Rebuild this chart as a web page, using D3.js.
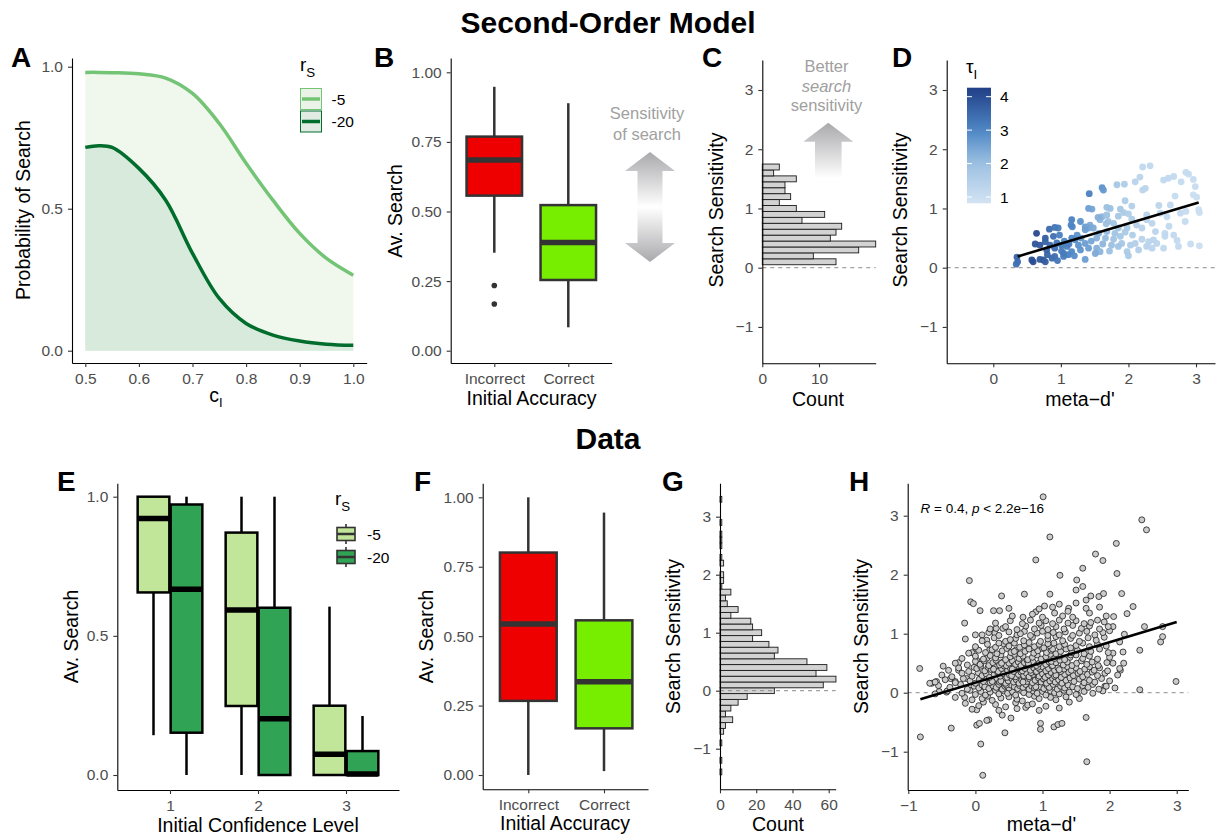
<!DOCTYPE html>
<html>
<head>
<meta charset="utf-8">
<script src="https://cdn.jsdelivr.net/npm/d3@7"></script>
<style>
body { margin: 0; background: #fff; }
svg { font-family: "Liberation Sans", Arial, Helvetica, sans-serif; }
</style>
</head>
<body>
<svg width="1217" height="840"></svg>
<script>
// ---- A: probability of search vs initial confidence
var ciGrid  = [0.5, 0.525, 0.55, 0.6, 0.65, 0.7, 0.75, 0.8, 0.85, 0.9, 0.95, 1.0];
var probR5  = [0.980, 0.980, 0.979, 0.975, 0.960, 0.906, 0.800, 0.660, 0.530, 0.413, 0.325, 0.266];
var probR20 = [0.716, 0.722, 0.716, 0.642, 0.530, 0.343, 0.184, 0.096, 0.055, 0.034, 0.023, 0.019];

// ---- B / F: boxplots [lower whisker, q1, median, q3, upper whisker]
var accCats = ["Incorrect", "Correct"];
var modelBoxes = [[0.352, 0.557, 0.685, 0.769, 0.948], [0.084, 0.254, 0.389, 0.523, 0.889]];
var modelOutliers = [0.234, 0.168];
var dataBoxes = [[0.0, 0.267, 0.544, 0.801, 1.0], [0.014, 0.168, 0.336, 0.557, 0.945]];

// ---- C: model search sensitivity histogram (bin lower edge, width 0.1)
var binLowC  = [0.05, 0.15, 0.25, 0.35, 0.45, 0.55, 0.65, 0.75, 0.85, 0.95, 1.05, 1.15, 1.25, 1.35, 1.45, 1.55, 1.65];
var countsC  = [13, 9, 17, 20, 12, 13, 14, 7, 11, 6, 3, 5, 4, 4, 6, 2, 3];

// ---- D: model meta-d' vs search sensitivity [meta-d', sensitivity, tau_I]
var pointsD = [[2.21,1.70,1.2],[2.32,1.72,1.2],[2.85,1.61,1.1],[2.89,1.58,1.1],[2.52,1.48,1.2],[2.59,1.51,1.2],[2.67,1.54,1.15],[2.96,1.49,1.05],
[2.10,1.45,1.4],[2.17,1.53,1.3],[1.83,1.40,1.8],[1.94,1.41,1.6],[2.25,1.34,1.3],[2.21,1.31,1.3],[1.61,1.35,2.8],[1.63,1.31,2.7],[1.42,1.25,3.1],
[2.99,1.37,1.05],[2.69,1.21,1.1],[3.01,1.19,1.0],[2.96,1.23,1.0],[1.95,1.13,1.6],[2.05,1.04,1.5],[2.62,1.06,1.2],[1.41,1.00,2.6],[1.46,0.99,2.5],
[1.68,1.02,2.0],[1.73,1.00,2.0],[1.88,0.99,1.8],[1.93,0.93,1.7],[3.04,0.98,1.0],[3.05,0.93,1.0],[1.61,0.86,2.2],[1.68,0.89,2.0],[1.85,0.87,1.8],
[2.00,0.91,1.6],[2.27,0.89,1.4],[2.47,0.92,1.3],[2.57,0.86,1.2],[2.77,0.92,1.15],[1.16,0.81,3.1],[1.29,0.78,2.8],[1.58,0.81,2.2],[1.70,0.78,2.0],
[1.67,0.74,2.0],[1.78,0.75,1.9],[1.43,0.72,2.4],[1.36,0.69,2.6],[1.41,0.67,2.5],[2.12,0.72,1.5],[2.05,0.82,1.6],[1.98,0.67,1.7],[2.27,0.81,1.4],
[2.35,0.75,1.3],[2.84,0.78,1.1],[0.83,0.65,3.5],[0.91,0.68,3.3],[0.96,0.67,3.2],[1.15,0.72,3.0],[1.17,0.69,3.0],[0.64,0.58,4.1],[0.77,0.50,3.7],
[0.89,0.53,3.4],[1.24,0.55,2.8],[1.16,0.50,3.0],[1.36,0.64,2.6],[1.48,0.67,2.4],[1.56,0.58,2.3],[1.68,0.61,2.1],[1.80,0.58,1.9],[1.88,0.53,1.8],
[1.85,0.67,1.9],[2.06,0.55,1.6],[2.20,0.67,1.4],[2.40,0.61,1.3],[2.54,0.58,1.2],[2.67,0.55,1.15],[2.54,0.53,1.2],[0.62,0.40,3.9],[0.77,0.44,3.6],
[0.69,0.38,3.8],[0.84,0.38,3.5],[0.94,0.42,3.3],[1.01,0.38,3.2],[1.09,0.36,3.1],[1.21,0.47,2.9],[1.26,0.38,2.8],[1.36,0.41,2.6],[1.53,0.50,2.3],
[1.66,0.50,2.1],[1.78,0.48,1.9],[1.90,0.41,1.8],[2.03,0.38,1.6],[2.10,0.41,1.5],[2.20,0.48,1.4],[2.30,0.44,1.35],[2.37,0.47,1.3],[2.42,0.41,1.3],
[2.72,0.46,1.15],[2.27,0.36,1.4],[2.35,0.33,1.3],[2.52,0.33,1.2],[2.74,0.36,1.15],[2.92,0.40,1.05],[3.05,0.37,1.0],[0.79,0.30,3.6],[0.91,0.33,3.4],
[1.01,0.28,3.2],[1.04,0.24,3.2],[1.11,0.22,3.1],[1.16,0.27,3.0],[1.29,0.30,2.8],[1.41,0.33,2.6],[1.53,0.33,2.3],[1.58,0.27,2.2],[1.51,0.24,2.4],
[1.75,0.38,2.0],[1.85,0.36,1.9],[1.98,0.27,1.7],[2.00,0.20,1.7],[0.57,0.13,4.0],[0.59,0.10,4.0],[0.69,0.14,3.8],[0.74,0.13,3.8],[0.77,0.10,3.7],
[0.87,0.16,3.5],[0.91,0.19,3.4],[1.04,0.19,3.2],[1.36,0.14,2.6],[0.35,0.18,3.6],[0.36,0.10,3.5],[0.34,0.06,3.4],[0.98,0.55,3.1],[1.05,0.45,3.0],
[1.20,0.20,2.9],[1.12,0.40,3.1],[0.80,0.22,3.6],[1.30,0.50,2.7],[1.45,0.45,2.5],[1.62,0.40,2.2],[1.72,0.28,2.0],[2.15,0.30,1.5],[2.60,0.70,1.2],
[2.45,1.05,1.3],[2.85,0.95,1.1],[1.95,0.60,1.7],[1.55,0.85,2.3],[0.95,0.12,3.3],[2.78,1.45,1.1]];
var fitD = [[0.36, 0.19], [3.04, 1.10]];

// ---- E: data boxplots by confidence level and r_S
var confLevels = [1, 2, 3];
var rsLevels = ["-5", "-20"];
var boxesR5  = [[0.143, 0.656, 0.922, 1.0, 1.0], [0.0, 0.248, 0.593, 0.871, 1.0], [0.0, 0.0, 0.075, 0.249, 0.605]];
var boxesR20 = [[0.0, 0.152, 0.667, 0.972, 1.0], [0.0, 0.0, 0.202, 0.601, 1.0], [0.0, 0.0, 0.004, 0.086, 0.212]];

// ---- G: data search sensitivity histogram (bin centre, width 0.1)
var binMidG = [-1.4, -1.2, -0.9, -0.7, -0.6, -0.5, -0.4, -0.3, -0.2, -0.1, 0.0, 0.1, 0.2, 0.3, 0.4, 0.5, 0.6, 0.7, 0.8, 0.9, 1.0,
               1.1, 1.2, 1.3, 1.4, 1.5, 1.6, 1.7, 1.8, 1.9, 2.0, 2.2, 2.3, 2.5, 2.6, 2.7, 2.9, 3.3];
var countsG = [1, 1, 1, 2, 3, 7, 3, 6, 10, 15, 30, 57, 64, 53, 59, 48, 30, 32, 27, 18, 23,
               18, 17, 6, 10, 4, 3, 6, 1, 2, 2, 2, 1, 1, 1, 1, 1, 1];

// ---- H: data meta-d' vs search sensitivity
var pointsH = [
[-0.83,0.41],[-0.82,-0.75],[-0.65,0.16],[-0.58,0.19],[-0.54,0.02],[-0.48,0.45],[-0.43,0.01],[-0.37,0.24],[-0.36,-0.60],[-0.30,0.19],
[-0.25,0.51],[-0.25,0.38],[-0.16,1.18],[-0.15,0.91],[-0.13,0.24],[-0.16,-0.08],[-0.09,1.90],[-0.07,1.54],[-0.03,1.51],[-0.05,0.68],
[-0.02,0.43],[0.01,0.75],[0.02,0.55],[0.02,-0.29],[0.02,-0.55],[0.06,-0.52],[0.07,1.39],[0.08,-0.87],[0.10,0.98],[0.11,-1.40],
[0.17,0.89],[0.17,0.58],[0.20,-0.46],[0.21,0.72],[0.17,-0.47],[0.27,1.39],[0.29,1.01],[0.31,1.09],[0.36,1.39],[0.39,1.64],
[0.40,-0.38],[0.41,1.09],[0.44,-0.68],[0.50,1.43],[0.53,-0.43],[0.71,1.28],[0.73,1.67],[0.75,-0.25],[0.90,2.25],[0.90,1.37],
[0.97,-0.52],[0.97,-0.62],[1.01,3.32],[1.03,1.47],[1.11,2.64],[1.11,1.67],[1.17,-0.58],[1.23,-0.54],[1.26,1.99],[1.29,-0.52],
[1.39,1.43],[1.51,1.91],[1.50,1.74],[1.52,-0.03],[1.60,1.80],[1.60,2.11],[1.65,1.57],[1.65,1.43],[1.65,-0.42],[1.66,-1.17],
[1.72,1.64],[1.79,2.35],[1.84,1.63],[1.90,2.24],[1.91,1.68],[1.93,0.11],[2.10,2.53],[2.11,2.02],[2.18,1.68],[2.21,0.50],
[2.26,1.34],[2.35,1.46],[2.45,0.05],[2.45,0.72],[2.48,2.93],[2.55,2.76],[2.52,1.12],[2.76,0.86],[2.79,0.95],[2.79,1.12],
[2.99,0.19],[2.16,0.38],[2.05,0.67],[2.05,0.50],[2.15,0.86],[2.20,0.69],[2.22,0.99],[2.06,1.29],[2.05,1.12],
[-0.15,-0.18],[0.05,-0.22],[0.12,-0.16],[0.30,-0.20],[0.45,-0.24],[0.60,-0.17],[0.78,-0.21],[0.85,-0.19],[1.05,-0.23],[1.40,-0.16],
[-0.30,-0.08],[-0.05,-0.12],[0.10,-0.10],[0.18,-0.06],[0.25,-0.13],[0.38,-0.09],[0.50,-0.07],[0.62,-0.11],[0.70,-0.14],[0.88,-0.06],
[0.95,-0.10],[1.12,-0.08],[1.20,-0.12],[1.35,-0.07],[1.55,-0.10],
[-0.60,-0.02],[-0.42,0.03],[-0.20,-0.01],[-0.08,0.04],[0.00,-0.03],[0.08,0.02],[0.15,-0.04],[0.22,0.01],[0.30,0.04],[0.35,-0.02],
[0.42,0.03],[0.48,-0.01],[0.55,0.02],[0.60,-0.04],[0.68,0.04],[0.72,0.00],[0.80,-0.03],[0.86,0.03],[0.92,-0.01],[1.00,0.02],
[1.05,-0.04],[1.12,0.03],[1.18,0.00],[1.25,-0.02],[1.32,0.04],[1.40,0.01],[1.50,-0.03],[1.62,0.02],[1.75,-0.01],[1.90,0.03],
[-0.68,0.16],[-0.55,0.12],[-0.38,0.09],[-0.22,0.14],[-0.12,0.06],[-0.02,0.11],[0.05,0.08],[0.10,0.13],[0.14,0.10],[0.20,0.07],
[0.26,0.12],[0.31,0.09],[0.35,0.14],[0.40,0.06],[0.44,0.11],[0.50,0.08],[0.53,0.13],[0.58,0.10],[0.63,0.07],[0.66,0.12],
[0.71,0.09],[0.75,0.14],[0.80,0.06],[0.84,0.11],[0.88,0.08],[0.93,0.13],[0.97,0.10],[1.02,0.07],[1.07,0.12],[1.10,0.09],
[1.16,0.14],[1.22,0.06],[1.27,0.11],[1.33,0.08],[1.38,0.13],[1.45,0.10],[1.52,0.07],[1.60,0.12],[1.68,0.09],[1.75,0.14],
[1.84,0.06],[1.95,0.11],[2.08,0.08],[0.46,0.13],[0.90,0.10],
[-0.60,0.18],[-0.45,0.22],[-0.30,0.17],[-0.18,0.24],[-0.08,0.20],[0.00,0.16],[0.06,0.23],[0.12,0.19],[0.17,0.25],[0.22,0.17],
[0.27,0.21],[0.32,0.24],[0.36,0.18],[0.41,0.22],[0.45,0.16],[0.49,0.20],[0.54,0.24],[0.57,0.18],[0.61,0.22],[0.65,0.16],
[0.69,0.21],[0.73,0.25],[0.77,0.19],[0.81,0.23],[0.85,0.17],[0.89,0.21],[0.94,0.25],[0.98,0.18],[1.03,0.22],[1.06,0.16],
[1.11,0.20],[1.15,0.24],[1.19,0.18],[1.24,0.22],[1.29,0.16],[1.35,0.21],[1.41,0.25],[1.47,0.19],[1.55,0.23],[1.62,0.17],
[1.70,0.21],[1.78,0.18],[1.88,0.24],[2.00,0.20],[0.38,0.20],[0.71,0.18],[1.01,0.24],[0.25,0.19],
[-0.50,0.30],[-0.35,0.27],[-0.20,0.33],[-0.05,0.28],[0.04,0.34],[0.10,0.29],[0.16,0.32],[0.21,0.26],[0.28,0.31],[0.33,0.35],
[0.37,0.28],[0.42,0.32],[0.47,0.26],[0.51,0.30],[0.56,0.34],[0.60,0.27],[0.64,0.31],[0.68,0.35],[0.72,0.29],[0.76,0.33],
[0.80,0.27],[0.86,0.31],[0.90,0.35],[0.95,0.28],[1.00,0.32],[1.04,0.26],[1.09,0.30],[1.13,0.34],[1.18,0.28],[1.23,0.32],
[1.28,0.26],[1.33,0.31],[1.39,0.35],[1.46,0.29],[1.53,0.33],[1.60,0.27],[1.67,0.31],[1.74,0.35],[1.82,0.29],[1.93,0.33],
[2.12,0.30],[0.54,0.29],[0.83,0.34],[1.20,0.30],
[-0.40,0.38],[-0.25,0.42],[-0.10,0.36],[0.02,0.41],[0.08,0.45],[0.14,0.37],[0.19,0.43],[0.24,0.39],[0.30,0.44],[0.34,0.36],
[0.39,0.41],[0.43,0.45],[0.48,0.38],[0.52,0.42],[0.57,0.36],[0.61,0.40],[0.65,0.44],[0.70,0.37],[0.74,0.41],[0.78,0.45],
[0.82,0.38],[0.87,0.42],[0.91,0.36],[0.96,0.40],[1.00,0.44],[1.05,0.37],[1.09,0.41],[1.14,0.45],[1.18,0.38],[1.23,0.42],
[1.27,0.36],[1.32,0.40],[1.37,0.44],[1.43,0.38],[1.50,0.42],[1.56,0.36],[1.63,0.40],[1.70,0.44],[1.77,0.38],[1.85,0.42],
[1.97,0.37],[2.15,0.41],[0.55,0.40],[0.93,0.43],[1.25,0.39],[0.27,0.40],
[-0.30,0.50],[-0.12,0.47],[0.00,0.53],[0.07,0.48],[0.13,0.54],[0.20,0.46],[0.26,0.51],[0.31,0.55],[0.36,0.47],[0.41,0.52],
[0.46,0.46],[0.50,0.50],[0.55,0.54],[0.60,0.48],[0.64,0.52],[0.68,0.46],[0.73,0.51],[0.77,0.55],[0.82,0.47],[0.86,0.52],
[0.91,0.46],[0.95,0.50],[1.00,0.54],[1.05,0.48],[1.10,0.52],[1.15,0.46],[1.20,0.51],[1.26,0.55],[1.31,0.47],[1.37,0.52],
[1.44,0.46],[1.51,0.50],[1.58,0.54],[1.66,0.48],[1.74,0.52],[1.83,0.46],[1.96,0.51],[0.39,0.50],[0.79,0.49],[1.13,0.53],
[-0.20,0.58],[0.00,0.62],[0.12,0.57],[0.22,0.63],[0.30,0.59],[0.38,0.64],[0.45,0.56],[0.52,0.61],[0.58,0.65],[0.65,0.58],
[0.71,0.62],[0.78,0.56],[0.85,0.60],[0.92,0.64],[0.98,0.57],[1.05,0.61],[1.12,0.65],[1.18,0.58],[1.25,0.62],[1.33,0.56],
[1.41,0.60],[1.50,0.64],[1.60,0.58],[1.70,0.62],[1.82,0.57],[2.00,0.60],[1.42,0.64],
[-0.10,0.67],[0.05,0.72],[0.15,0.68],[0.25,0.73],[0.32,0.66],[0.40,0.71],[0.47,0.75],[0.53,0.68],[0.60,0.72],[0.67,0.66],
[0.74,0.70],[0.80,0.74],[0.87,0.67],[0.93,0.71],[1.00,0.75],[1.06,0.68],[1.13,0.72],[1.20,0.66],[1.27,0.70],[1.35,0.74],
[1.44,0.68],[1.52,0.72],[1.62,0.66],[1.72,0.70],[1.85,0.74],[1.98,0.68],[0.58,0.70],[1.15,0.74],
[0.00,0.78],[0.18,0.82],[0.30,0.77],[0.42,0.83],[0.50,0.79],[0.58,0.84],[0.66,0.77],[0.73,0.81],[0.80,0.85],[0.88,0.78],
[0.95,0.82],[1.02,0.76],[1.10,0.80],[1.17,0.84],[1.25,0.78],[1.33,0.82],[1.42,0.76],[1.50,0.80],[1.60,0.84],[1.70,0.78],
[1.82,0.82],[1.95,0.79],[0.35,0.84],[1.08,0.83],
[0.10,0.88],[0.28,0.93],[0.45,0.87],[0.60,0.92],[0.72,0.88],[0.85,0.94],[0.97,0.87],[1.08,0.91],[1.20,0.95],[1.30,0.88],
[1.42,0.92],[1.55,0.87],[1.68,0.93],[1.80,0.89],[1.92,0.94],[0.52,0.90],
[0.00,0.98],[0.20,1.02],[0.35,0.97],[0.50,1.03],[0.62,0.98],[0.73,1.04],[0.82,0.97],[0.92,1.01],[1.00,1.04],[1.08,0.97],
[1.16,1.02],[1.25,0.98],[1.34,1.03],[1.45,0.97],[1.55,1.01],[1.66,1.04],[1.78,0.98],[1.90,1.02],[2.00,1.05],[0.67,1.00],
[0.22,1.08],[0.45,1.12],[0.62,1.07],[0.75,1.13],[0.88,1.08],[0.98,1.14],[1.08,1.07],[1.20,1.12],[1.32,1.08],[1.45,1.14],
[1.58,1.09],[1.70,1.13],[1.85,1.08],[1.98,1.12],
[0.30,1.18],[0.52,1.22],[0.70,1.17],[0.82,1.23],[0.95,1.18],[1.05,1.22],[1.15,1.17],[1.25,1.23],[1.38,1.18],[1.50,1.22],
[1.62,1.17],[1.72,1.19],[1.82,1.23],[1.92,1.20],
[0.55,1.30],[0.85,1.33],[1.00,1.28],[1.18,1.35],[1.30,1.30],[1.45,1.28],[1.15,1.45],[0.95,1.42],[1.38,1.38],[1.70,1.35],
[1.95,1.30],[1.25,1.50],[1.50,1.52],[1.85,1.45],
[-0.05,-0.28],[0.35,-0.30],[0.62,-0.27],[0.95,-0.30],[1.25,-0.26]];
var fitH = [[-0.82, -0.11], [3.0, 1.20]];
var corText = {R: "0.4", p: "2.2e\u221216"};

// ---------------------------------------------------------------------------
var svg = d3.select("svg");
var FONT = '"Liberation Sans", Arial, Helvetica, sans-serif';

// linear scale that passes through two reference points and spans the axis pixels
function lin(v0, p0, v1, p1, pa, pb) {
  var s = d3.scaleLinear().domain([v0, v1]).range([p0, p1]);
  return d3.scaleLinear().domain([s.invert(pa), s.invert(pb)]).range([pa, pb]);
}
function minusFmt(f) {
  return function(d) { return (d < 0 ? "\u2212" : "") + d3.format(f)(Math.abs(d)); };
}
function styleAxis(g) {
  g.attr("font-family", FONT).attr("font-size", 15.5);
  g.select(".domain").attr("stroke", "#000").attr("stroke-width", 1.1);
  g.selectAll(".tick line").attr("stroke", "#333").attr("stroke-width", 1.1);
  g.selectAll(".tick text").attr("fill", "#4d4d4d");
}
function axes(x, y, xt, xf, yt, yf) {
  var gx = svg.append("g").attr("transform", "translate(0," + y.range()[0] + ")")
    .call(d3.axisBottom(x).tickValues(xt).tickFormat(xf).tickSize(4).tickPadding(6).tickSizeOuter(0));
  var gy = svg.append("g").attr("transform", "translate(" + x.range()[0] + ",0)")
    .call(d3.axisLeft(y).tickValues(yt).tickFormat(yf).tickSize(4).tickPadding(5).tickSizeOuter(0));
  styleAxis(gx); styleAxis(gy);
}
function yLabel(txt, xb, yc) {
  svg.append("text").attr("transform", "translate(" + xb + "," + yc + ") rotate(-90)")
    .attr("text-anchor", "middle").attr("font-size", 19.5).text(txt);
}
function xLabel(txt, xc, yb) {
  return svg.append("text").attr("x", xc).attr("y", yb).attr("text-anchor", "middle")
    .attr("font-size", 19.5).text(txt);
}
function letter(t, x, y) {
  svg.append("text").attr("x", x).attr("y", y).attr("font-size", 28).attr("font-weight", "bold").text(t);
}
function subLabel(main, sub, x, y, size) {
  var t = svg.append("text").attr("x", x).attr("y", y).attr("font-size", size);
  t.append("tspan").text(main);
  t.append("tspan").attr("font-size", size * 0.7).attr("dy", size * 0.3).text(sub);
  return t;
}
function boxplot(xc, hw, y, s, fill, stroke) {
  var g = svg.append("g").attr("stroke", stroke);
  g.append("line").attr("x1", xc).attr("x2", xc).attr("y1", y(s[3])).attr("y2", y(s[4])).attr("stroke-width", 2.5);
  g.append("line").attr("x1", xc).attr("x2", xc).attr("y1", y(s[0])).attr("y2", y(s[1])).attr("stroke-width", 2.5);
  g.append("rect").attr("x", xc - hw).attr("width", 2 * hw).attr("y", y(s[3]))
    .attr("height", Math.max(y(s[1]) - y(s[3]), 0.01)).attr("fill", fill).attr("stroke-width", 2.5);
  g.append("line").attr("x1", xc - hw).attr("x2", xc + hw).attr("y1", y(s[2])).attr("y2", y(s[2])).attr("stroke-width", 5.5);
}
function zeroLine(x, y) {
  svg.append("line").attr("x1", x.range()[0]).attr("x2", x.range()[1]).attr("y1", y(0)).attr("y2", y(0))
    .attr("stroke", "#8a8a8a").attr("stroke-width", 1).attr("stroke-dasharray", "4,4");
}

// titles
svg.append("text").attr("x", 608).attr("y", 33).attr("text-anchor", "middle")
  .attr("font-size", 30).attr("font-weight", "bold").text("Second-Order Model");
svg.append("text").attr("x", 608).attr("y", 449).attr("text-anchor", "middle")
  .attr("font-size", 30).attr("font-weight", "bold").text("Data");

// gradients
var defs = svg.append("defs");
var g1 = defs.append("linearGradient").attr("id", "dbl").attr("x1", 0).attr("x2", 0).attr("y1", 0).attr("y2", 1);
g1.append("stop").attr("offset", "0%").attr("stop-color", "#a9a9ac");
g1.append("stop").attr("offset", "50%").attr("stop-color", "#ffffff");
g1.append("stop").attr("offset", "100%").attr("stop-color", "#a9a9ac");
var g2 = defs.append("linearGradient").attr("id", "up").attr("x1", 0).attr("x2", 0).attr("y1", 0).attr("y2", 1);
g2.append("stop").attr("offset", "0%").attr("stop-color", "#a9a9ac");
g2.append("stop").attr("offset", "100%").attr("stop-color", "#ffffff");

// ===== A =====
(function() {
  var x = lin(0.5, 85.3, 1.0, 353.3, 72, 366.7);
  var y = lin(0, 350.7, 1, 66.7, 363, 58);
  var d5 = ciGrid.map(function(c, i) { return {c: c, p: probR5[i]}; });
  var d20 = ciGrid.map(function(c, i) { return {c: c, p: probR20[i]}; });
  var area = d3.area().x(function(d) { return x(d.c); }).y0(y(0)).y1(function(d) { return y(d.p); }).curve(d3.curveCatmullRom);
  var line = d3.line().x(function(d) { return x(d.c); }).y(function(d) { return y(d.p); }).curve(d3.curveCatmullRom);
  svg.append("path").datum(d5).attr("d", area).attr("fill", "#f0f7ed");
  svg.append("path").datum(d20).attr("d", area).attr("fill", "#d7eadb");
  svg.append("path").datum(d5).attr("d", line).attr("fill", "none").attr("stroke", "#74c476").attr("stroke-width", 3.5);
  svg.append("path").datum(d20).attr("d", line).attr("fill", "none").attr("stroke", "#006d2c").attr("stroke-width", 3.5);
  axes(x, y, [0.5, 0.6, 0.7, 0.8, 0.9, 1.0], d3.format(".1f"), [0, 0.5, 1], d3.format(".1f"));
  yLabel("Probability of Search", 29.5, 210);
  var t = xLabel("c", 216, 402); t.append("tspan").attr("font-size", 13).attr("dy", 5).text("I");
  letter("A", 11, 67);
  // legend
  subLabel("r", "S", 300, 71, 19);
  var keys = [{lab: rsLevels[0], col: "#74c476", bg: "#ebf2e8", y: 88.5}, {lab: rsLevels[1], col: "#006d2c", bg: "#e2ebe3", y: 111}];
  keys.forEach(function(k) {
    svg.append("rect").attr("x", 300.5).attr("y", k.y).attr("width", 21).attr("height", 21)
      .attr("fill", k.bg).attr("stroke", k.col).attr("stroke-width", 1);
    svg.append("line").attr("x1", 302).attr("x2", 320).attr("y1", k.y + 10.5).attr("y2", k.y + 10.5)
      .attr("stroke", k.col).attr("stroke-width", 3.5);
    svg.append("text").attr("x", 331.5).attr("y", k.y + 16).attr("font-size", 15.5).text(k.lab);
  });
})();

// ===== B =====
(function() {
  var x = lin(1, 494.3, 2, 568.3, 450.7, 611.7);
  var y = lin(0, 350.7, 1, 72.3, 363, 58);
  var fills = ["#ee0000", "#77ee00"];
  var hw = x(1.375) - x(1);
  modelBoxes.forEach(function(s, i) { boxplot(x(i + 1), hw, y, s, fills[i], "#333"); });
  svg.selectAll(".outB").data(modelOutliers).join("circle")
    .attr("cx", x(1)).attr("cy", function(d) { return y(d); }).attr("r", 2.8).attr("fill", "#333");
  axes(x, y, [1, 2], function(d, i) { return accCats[i]; }, [0, 0.25, 0.5, 0.75, 1], d3.format(".2f"));
  yLabel("Av. Search", 402, 211);
  xLabel("Initial Accuracy", 531.5, 405);
  letter("B", 374, 67);
  svg.append("path").attr("d", "M650,152 L675,171 L662.5,171 L662.5,243 L675,243 L650,262 L625,243 L637.5,243 L637.5,171 L625,171 Z")
    .attr("fill", "url(#dbl)");
  svg.append("text").attr("x", 647).attr("y", 119).attr("text-anchor", "middle").attr("font-size", 16.5)
    .attr("fill", "#a0a0a0").text("Sensitivity");
  svg.append("text").attr("x", 647).attr("y", 139.5).attr("text-anchor", "middle").attr("font-size", 16.5)
    .attr("fill", "#a0a0a0").text("of search");
})();

// ===== C =====
(function() {
  var x = lin(0, 762.3, 20, 875.7, 762.3, 875.7);
  var y = lin(0, 267.7, 3, 90, 363.3, 60);
  svg.selectAll(".barC").data(binLowC).join("rect")
    .attr("x", x(0)).attr("y", function(d) { return y(d + 0.1); })
    .attr("width", function(d, i) { return x(countsC[i]) - x(0); })
    .attr("height", function(d) { return y(d) - y(d + 0.1); })
    .attr("fill", "#d3d3d3").attr("stroke", "#1a1a1a").attr("stroke-width", 0.9);
  zeroLine(x, y);
  axes(x, y, [0, 10], d3.format("d"), [-1, 0, 1, 2, 3], minusFmt("d"));
  yLabel("Search Sensitivity", 723, 210);
  xLabel("Count", 818, 406);
  letter("C", 702, 67);
  svg.append("path").attr("d", "M828.3,122.7 L853.3,141.7 L841.6,141.7 L841.6,178.3 L815,178.3 L815,141.7 L803.3,141.7 Z")
    .attr("fill", "url(#up)");
  var tx = [["Better", 71.5, "normal"], ["search", 91.5, "italic"], ["sensitivity", 110.5, "normal"]];
  tx.forEach(function(t) {
    svg.append("text").attr("x", 826.5).attr("y", t[1]).attr("text-anchor", "middle").attr("font-size", 16.5)
      .attr("font-style", t[2]).attr("fill", "#a0a0a0").text(t[0]);
  });
})();

// ===== D =====
(function() {
  var x = lin(0, 993.3, 3, 1196, 946.7, 1215);
  var y = lin(0, 267.7, 3, 90, 363.3, 60);
  var col = d3.scaleLinear().domain([0.82, 2, 3, 4.27]).range(["#d2e3f3", "#9dc1e2", "#4d86c5", "#213f86"]);
  zeroLine(x, y);
  svg.selectAll(".ptD").data(pointsD).join("circle")
    .attr("cx", function(d) { return x(d[0]); }).attr("cy", function(d) { return y(d[1]); })
    .attr("r", 3.4).attr("fill", function(d) { return col(d[2]); }).attr("opacity", 0.95);
  svg.append("line").attr("x1", x(fitD[0][0])).attr("y1", y(fitD[0][1])).attr("x2", x(fitD[1][0])).attr("y2", y(fitD[1][1]))
    .attr("stroke", "#000").attr("stroke-width", 2.6);
  axes(x, y, [0, 1, 2, 3], d3.format("d"), [-1, 0, 1, 2, 3], minusFmt("d"));
  yLabel("Search Sensitivity", 907, 210);
  xLabel("meta\u2212d'", 1080, 406);
  letter("D", 892, 67);
  // colour bar
  var cb = d3.scaleLinear().domain([1, 4]).range([197, 96.7]);
  var gr = defs.append("linearGradient").attr("id", "tau").attr("x1", 0).attr("x2", 0).attr("y1", 0).attr("y2", 1);
  d3.range(0, 1.0001, 0.1).forEach(function(o) {
    gr.append("stop").attr("offset", o).attr("stop-color", col(cb.invert(87.7 + o * (203.3 - 87.7))));
  });
  svg.append("rect").attr("x", 967).attr("y", 87.7).attr("width", 24).attr("height", 115.6).attr("fill", "url(#tau)");
  [1, 2, 3, 4].forEach(function(v) {
    svg.append("line").attr("x1", 967).attr("x2", 972).attr("y1", cb(v)).attr("y2", cb(v)).attr("stroke", "#fff").attr("stroke-width", 1);
    svg.append("line").attr("x1", 986).attr("x2", 991).attr("y1", cb(v)).attr("y2", cb(v)).attr("stroke", "#fff").attr("stroke-width", 1);
    svg.append("text").attr("x", 1000).attr("y", cb(v) + 5.5).attr("font-size", 15.5).text(v);
  });
  subLabel("\u03c4", "I", 966, 73, 19);
})();

// ===== E =====
(function() {
  var x = lin(1, 170, 3, 346, 117.3, 399);
  var y = lin(0, 775, 1, 496.7, 790, 483.3);
  var hw = x(1.18) - x(1);
  var off = x(1.1875) - x(1);
  boxesR5.forEach(function(s, i) { boxplot(x(confLevels[i]) - off, hw, y, s, "#c2e699", "#000"); });
  boxesR20.forEach(function(s, i) { boxplot(x(confLevels[i]) + off, hw, y, s, "#31a354", "#000"); });
  axes(x, y, confLevels, d3.format("d"), [0, 0.5, 1], d3.format(".1f"));
  yLabel("Av. Search", 77.5, 636.5);
  xLabel("Initial Confidence Level", 258, 832);
  letter("E", 57, 491);
  subLabel("r", "S", 335, 505, 19);
  [{lab: rsLevels[0], f: "#c2e699", cy: 534}, {lab: rsLevels[1], f: "#31a354", cy: 557}].forEach(function(k) {
    var g = svg.append("g").attr("stroke", "#333").attr("stroke-width", 1.6);
    g.append("line").attr("x1", 346).attr("x2", 346).attr("y1", k.cy - 10).attr("y2", k.cy + 10);
    g.append("rect").attr("x", 337).attr("y", k.cy - 6.5).attr("width", 18).attr("height", 13).attr("fill", k.f);
    g.append("line").attr("x1", 337).attr("x2", 355).attr("y1", k.cy).attr("y2", k.cy).attr("stroke-width", 2.5);
    svg.append("text").attr("x", 367).attr("y", k.cy + 5.5).attr("font-size", 15.5).text(k.lab);
  });
})();

// ===== F =====
(function() {
  var x = lin(1, 528.3, 2, 604, 482.7, 648);
  var y = lin(0, 775, 1, 497.3, 789.3, 483.3);
  var fills = ["#ee0000", "#77ee00"];
  var hw = x(1.375) - x(1);
  dataBoxes.forEach(function(s, i) { boxplot(x(i + 1), hw, y, s, fills[i], "#333"); });
  axes(x, y, [1, 2], function(d, i) { return accCats[i]; }, [0, 0.25, 0.5, 0.75, 1], d3.format(".2f"));
  yLabel("Av. Search", 433, 636.5);
  xLabel("Initial Accuracy", 565, 830);
  letter("F", 414, 491);
})();

// ===== G =====
(function() {
  var x = lin(0, 720, 60, 828.7, 720, 835.7);
  var y = lin(0, 690.7, 3, 516.7, 789.3, 483.3);
  svg.selectAll(".barG").data(binMidG).join("rect")
    .attr("x", x(0)).attr("y", function(d) { return y(d + 0.05); })
    .attr("width", function(d, i) { return x(countsG[i]) - x(0); })
    .attr("height", function(d) { return y(d - 0.05) - y(d + 0.05); })
    .attr("fill", "#d3d3d3").attr("stroke", "#1a1a1a").attr("stroke-width", 0.9);
  zeroLine(x, y);
  axes(x, y, [0, 20, 40, 60], d3.format("d"), [-1, 0, 1, 2, 3], minusFmt("d"));
  yLabel("Search Sensitivity", 679.5, 636.5);
  xLabel("Count", 778, 831);
  letter("G", 662, 491);
})();

// ===== H =====
(function() {
  var x = lin(-1, 908.3, 3, 1176.7, 907.7, 1188.3);
  var y = lin(0, 692.7, 3, 515.7, 790, 483.3);
  zeroLine(x, y);
  svg.selectAll(".ptH").data(pointsH).join("circle")
    .attr("cx", function(d) { return x(d[0]); }).attr("cy", function(d) { return y(d[1]); })
    .attr("r", 3).attr("fill", "#cccccc").attr("stroke", "#1a1a1a").attr("stroke-width", 0.8);
  svg.append("line").attr("x1", x(fitH[0][0])).attr("y1", y(fitH[0][1])).attr("x2", x(fitH[1][0])).attr("y2", y(fitH[1][1]))
    .attr("stroke", "#000").attr("stroke-width", 2.6);
  axes(x, y, [-1, 0, 1, 2, 3], minusFmt("d"), [-1, 0, 1, 2, 3], minusFmt("d"));
  yLabel("Search Sensitivity", 868, 636.5);
  xLabel("meta\u2212d'", 1041.5, 831);
  letter("H", 849, 491);
  var t = svg.append("text").attr("x", 920.5).attr("y", 513).attr("font-size", 13.5);
  t.append("tspan").attr("font-style", "italic").text("R");
  t.append("tspan").text(" = " + corText.R + ", ");
  t.append("tspan").attr("font-style", "italic").text("p");
  t.append("tspan").text(" < " + corText.p);
})();
</script>
</body>
</html>
